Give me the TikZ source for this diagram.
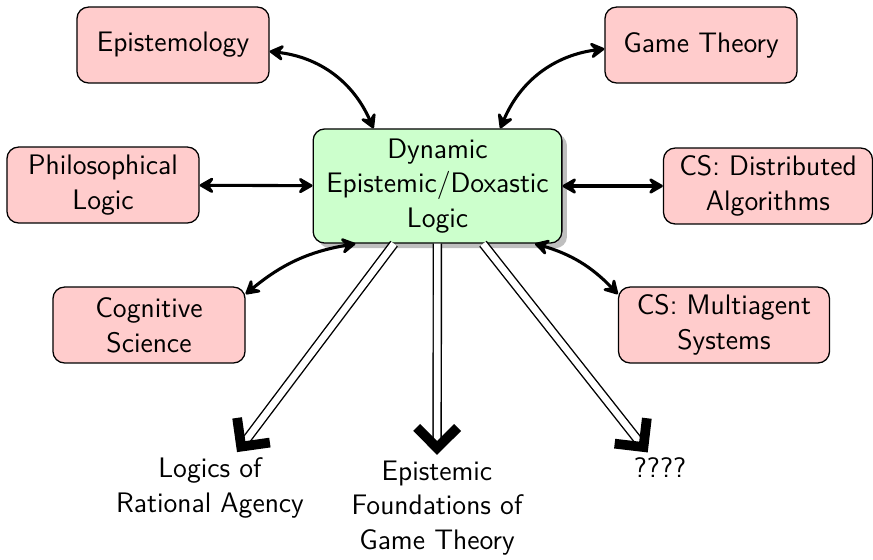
\documentclass[tikz,border=0pt]{standalone}
\usetikzlibrary{arrows.meta,shadows}
\begin{document}
\begin{tikzpicture}[x=0.39pt,y=-0.39pt,
  every node/.style={font=\fontsize{11}{13.6}\selectfont\sffamily},
  topic/.style={draw, line width=0.5pt, fill=red!20, rounded corners=4.5pt, align=center,
    minimum width=74.9pt, minimum height=29.6pt, inner sep=2pt},
  hub/.style={draw, line width=0.5pt, fill=green!20, rounded corners=4.5pt, align=center,
    minimum width=97pt, minimum height=44.5pt,
    drop shadow={shadow xshift=2pt, shadow yshift=-2pt, fill=black!25, opacity=1}},
  link/.style={{Stealth[length=7pt, width=8pt, inset=2.8pt, round]}-{Stealth[length=7pt, width=8pt, inset=2.8pt, round]}, line width=1.2pt},
  flow/.style={double, double distance=2.6pt, line width=0.55pt,
    -{Straight Barb[length=8pt, width=16pt, line width=3.8pt, sharp]}},
  result/.style={align=center, inner sep=2pt}
]
\useasboundingbox (0,0) rectangle (873,559);

\node[hub] (dyn) at (437.5,186) {Dynamic\\Epistemic/Doxastic\\Logic};
\node[topic] (epi) at (173,45) {Epistemology};
\node[topic] (game) at (701,45) {Game Theory};
\node[topic] (phil) at (103,185) {Philosophical\\Logic};
\node[topic, minimum width=81.5pt] (dist) at (768,186) {CS: Distributed\\Algorithms};
\node[topic] (cog) at (149,325) {Cognitive\\Science};
\node[topic, minimum width=82.3pt] (multi) at (724,325) {CS: Multiagent\\Systems};

\node[result] (rat) at (210,488) {Logics of\\Rational Agency};
\node[result] (found) at (437,508) {Epistemic\\Foundations of\\Game Theory};
\node[result] (unk) at (660,468) {????};

\draw[link] ([yshift=-2.5pt]epi.east) to[bend left=30] ([xshift=-25pt]dyn.north);
\draw[link] ([yshift=-1.5pt]game.west) to[bend right=30] ([xshift=24.5pt]dyn.north);
\draw[link] (phil) -- (dyn);
\draw[link] (dyn) -- (dist);
\draw[link] ([yshift=-3pt]cog.north east) to[bend left=15] ([xshift=-32pt]dyn.south);
\draw[link] ([yshift=-3pt]multi.north west) to[bend right=15] ([xshift=38pt]dyn.south);

\draw[flow] (dyn) -- (rat);
\draw[flow] (dyn) -- (found);
\draw[flow] (dyn) -- (unk);
\end{tikzpicture}
\end{document}
